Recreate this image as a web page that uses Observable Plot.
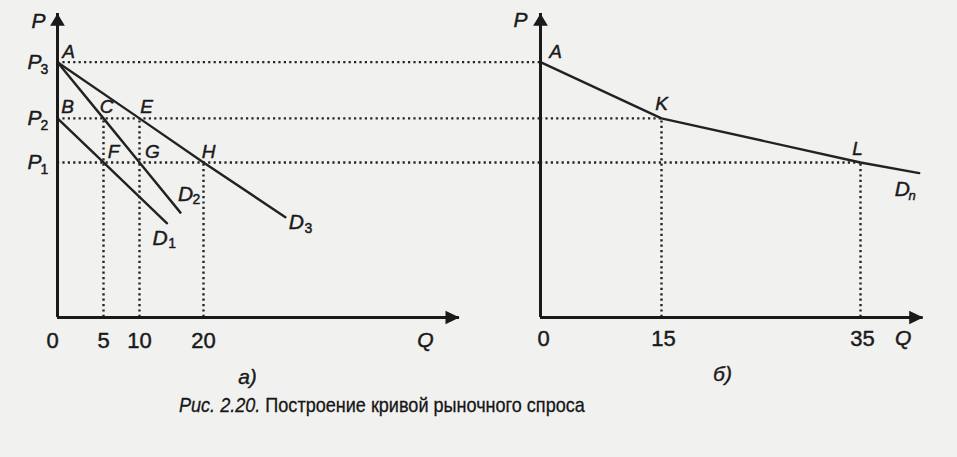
<!DOCTYPE html>
<html><head><meta charset="utf-8">
<script src="https://cdn.jsdelivr.net/npm/d3@7"></script>
<script src="https://cdn.jsdelivr.net/npm/@observablehq/plot@0.6"></script>
<style>
html,body{margin:0;padding:0;background:#f1f1f0;}
#fig{position:relative;width:957px;height:457px;overflow:hidden;}
#fig svg{position:absolute;top:0;}
#cap{position:absolute;left:179px;top:392px;font-size:21px;font-family:"Liberation Sans",Arial,sans-serif;color:#161616;white-space:nowrap;line-height:26px;transform:scaleX(0.86);transform-origin:0 50%;-webkit-text-stroke:0.3px #161616;}
</style></head><body>
<div id="fig"><div id="cap"><i>Рис. 2.20.</i> Построение кривой рыночного спроса</div></div>
<script>
// ---------- data ----------
const priceNames = ["P", "P", "P"];
const priceSubs = ["1", "2", "3"];
const priceLevels = [10.2, 13.1, 16.8];          // P1, P2, P3
const axisTopP = 20;

// panel a)
const qTicksA = [0, 5, 10, 20];
const axisEndQA = 60;
const pointLabelsA = ["A", "B", "C", "E", "F", "G", "H"];
const pointQA = [0, 0, 5, 10, 5, 10, 20];
const pointPA = [16.8, 13.1, 13.1, 13.1, 10.2, 10.2, 10.2];
const dropQA = [5, 10, 20];
const dropPA = [13.1, 13.1, 10.2];
const d1Q = [0, 5, 14.3],        d1P = [13.1, 10.2, 6.2];
const d2Q = [0, 5, 10, 16.4],    d2P = [16.8, 13.1, 10.2, 6.9];
const d3Q = [0, 10, 20, 32.8],   d3P = [16.8, 13.1, 10.2, 6.6];

// panel б)
const qTicksB = [0, 15, 35];
const axisEndQB = 41.3;
const pointLabelsB = ["A", "K", "L"];
const pointQB = [0, 15, 35];
const pointPB = [16.8, 13.1, 10.2];
const dnQ = [0, 15, 35, 40.9],   dnP = [16.8, 13.1, 10.2, 9.5];

// ---------- helpers ----------
const zip = (qs, ps) => qs.map((q, i) => ({q, p: ps[i]}));
const INK = "#1a1a1a";
const FONT = "Liberation Sans, Arial, Helvetica, sans-serif";
const solid = {stroke: "#222", strokeWidth: 2.4};
const dotted = {stroke: "#262626", strokeWidth: 2.4, strokeDasharray: "2.2,3.2"};
const arrowRight = {draw(c, size) {const r = Math.sqrt(size / Math.PI); c.moveTo(0, 0); c.lineTo(-2 * r, -0.95 * r); c.lineTo(-2 * r, 0.95 * r); c.closePath();}};
const arrowUp = {draw(c, size) {const r = Math.sqrt(size / Math.PI); c.moveTo(0, 0); c.lineTo(-1.05 * r, 1.75 * r); c.lineTo(1.05 * r, 1.75 * r); c.closePath();}};
const txt = (q, p, s, dx, dy, size = 19, style = "italic") =>
  Plot.text([{q, p}], {x: "q", y: "p", text: () => s, dx, dy, fontSize: size, fontStyle: style,
    fontFamily: FONT, fill: INK, stroke: INK, strokeWidth: 0.45, textAnchor: "middle", lineAnchor: "middle"});
const axes = (endQ) => [
  Plot.ruleY([0], {x1: 0, x2: endQ, stroke: INK, strokeWidth: 3}),
  Plot.ruleX([0], {y1: 0, y2: axisTopP, stroke: INK, strokeWidth: 3}),
  Plot.dot([{q: endQ, p: 0}], {x: "q", y: "p", symbol: arrowRight, r: 7, fill: INK, stroke: null}),
  Plot.dot([{q: 0, p: axisTopP}], {x: "q", y: "p", symbol: arrowUp, r: 7, fill: INK, stroke: null})
];

// ---------- panel a ----------
const left = Plot.plot({
  width: 540, height: 390,
  marginLeft: 57, marginRight: 0, marginTop: 13, marginBottom: 73,
  x: {type: "linear", domain: [0, 5, 10, 20, 60], range: [57, 103, 139, 203, 459], axis: null},
  y: {domain: [0, 20], range: [317, 13], axis: null},
  style: {background: "transparent", overflow: "visible"},
  marks: [
    Plot.ruleY(priceLevels, dotted),
    Plot.ruleX(zip(dropQA, dropPA), {x: "q", y1: 0, y2: "p", ...dotted}),
    Plot.line(zip(d1Q, d1P), {x: "q", y: "p", ...solid}),
    Plot.line(zip(d2Q, d2P), {x: "q", y: "p", ...solid}),
    Plot.line(zip(d3Q, d3P), {x: "q", y: "p", ...solid}),
    ...axes(axisEndQA),
    // axis names
    txt(0, axisTopP, "P", -19, 8, 21),
    txt(axisEndQA, 0, "Q", -34, 23, 21),
    // price labels
    ...priceLevels.flatMap((p, i) => [txt(0, p, priceNames[i], -23, 0, 21), txt(0, p, priceSubs[i], -13, 7, 14, "normal")]),
    // quantity ticks
    ...qTicksA.map(q => txt(q, 0, String(q), q === 0 ? -5 : 0, 23, 22, "normal")),
    // point labels
    txt(pointQA[0], pointPA[0], pointLabelsA[0], 11, -10),
    txt(pointQA[1], pointPA[1], pointLabelsA[1], 10, -11),
    txt(pointQA[2], pointPA[2], pointLabelsA[2], 3, -11),
    txt(pointQA[3], pointPA[3], pointLabelsA[3], 7, -11),
    txt(pointQA[4], pointPA[4], pointLabelsA[4], 10, -11),
    txt(pointQA[5], pointPA[5], pointLabelsA[5], 13, -11),
    txt(pointQA[6], pointPA[6], pointLabelsA[6], 5, -11),
    // curve labels
    txt(d1Q[2], d1P[2], "D", -7, 15, 21), txt(d1Q[2], d1P[2], "1", 5, 20, 14, "normal"),
    txt(d2Q[3], d2P[3], "D", 5, -18, 21), txt(d2Q[3], d2P[3], "2", 16, -13, 14, "normal"),
    txt(d3Q[3], d3P[3], "D", 11, 5, 21), txt(d3Q[3], d3P[3], "3", 23, 11, 14, "normal"),
    Plot.text(["а)"], {frameAnchor: "bottom-left", dx: 190, dy: 60, fontSize: 21, fontStyle: "italic", fontFamily: FONT, fill: INK, stroke: INK, strokeWidth: 0.4, textAnchor: "middle", lineAnchor: "middle"})
  ]
});
left.style.left = "0px";

// ---------- panel б ----------
const right = Plot.plot({
  width: 477, height: 390,
  marginLeft: 60, marginRight: 0, marginTop: 13, marginBottom: 73,
  x: {type: "linear", domain: [0, 15, 35], range: [60, 181, 380], axis: null},
  y: {domain: [0, 20], range: [317, 13], axis: null},
  style: {background: "transparent", overflow: "visible"},
  marks: [
    Plot.ruleY(zip(pointQB.slice(1), pointPB.slice(1)), {y: "p", x1: 0, x2: "q", ...dotted}),
    Plot.ruleX(zip(pointQB.slice(1), pointPB.slice(1)), {x: "q", y1: 0, y2: "p", ...dotted}),
    Plot.line(zip(dnQ, dnP), {x: "q", y: "p", ...solid}),
    ...axes(axisEndQB),
    txt(0, axisTopP, "P", -20, 7, 21),
    txt(axisEndQB, 0, "Q", -20, 21, 21),
    ...qTicksB.map(q => txt(q, 0, String(q), q === 0 ? 3 : 2, 21, 22, "normal")),
    txt(pointQB[0], pointPB[0], pointLabelsB[0], 15, -10),
    txt(pointQB[1], pointPB[1], pointLabelsB[1], 0, -14),
    txt(pointQB[2], pointPB[2], pointLabelsB[2], -3, -14),
    txt(dnQ[3], dnP[3], "D", -17, 16, 21), txt(dnQ[3], dnP[3], "n", -7, 23, 13),
    Plot.text(["б)"], {frameAnchor: "bottom-left", dx: 182, dy: 57, fontSize: 21, fontStyle: "italic", fontFamily: FONT, fill: INK, stroke: INK, strokeWidth: 0.4, textAnchor: "middle", lineAnchor: "middle"})
  ]
});
right.style.left = "480px";

const fig = document.getElementById("fig");
fig.insertBefore(right, fig.firstChild);
fig.insertBefore(left, fig.firstChild);
</script>
</body></html>
